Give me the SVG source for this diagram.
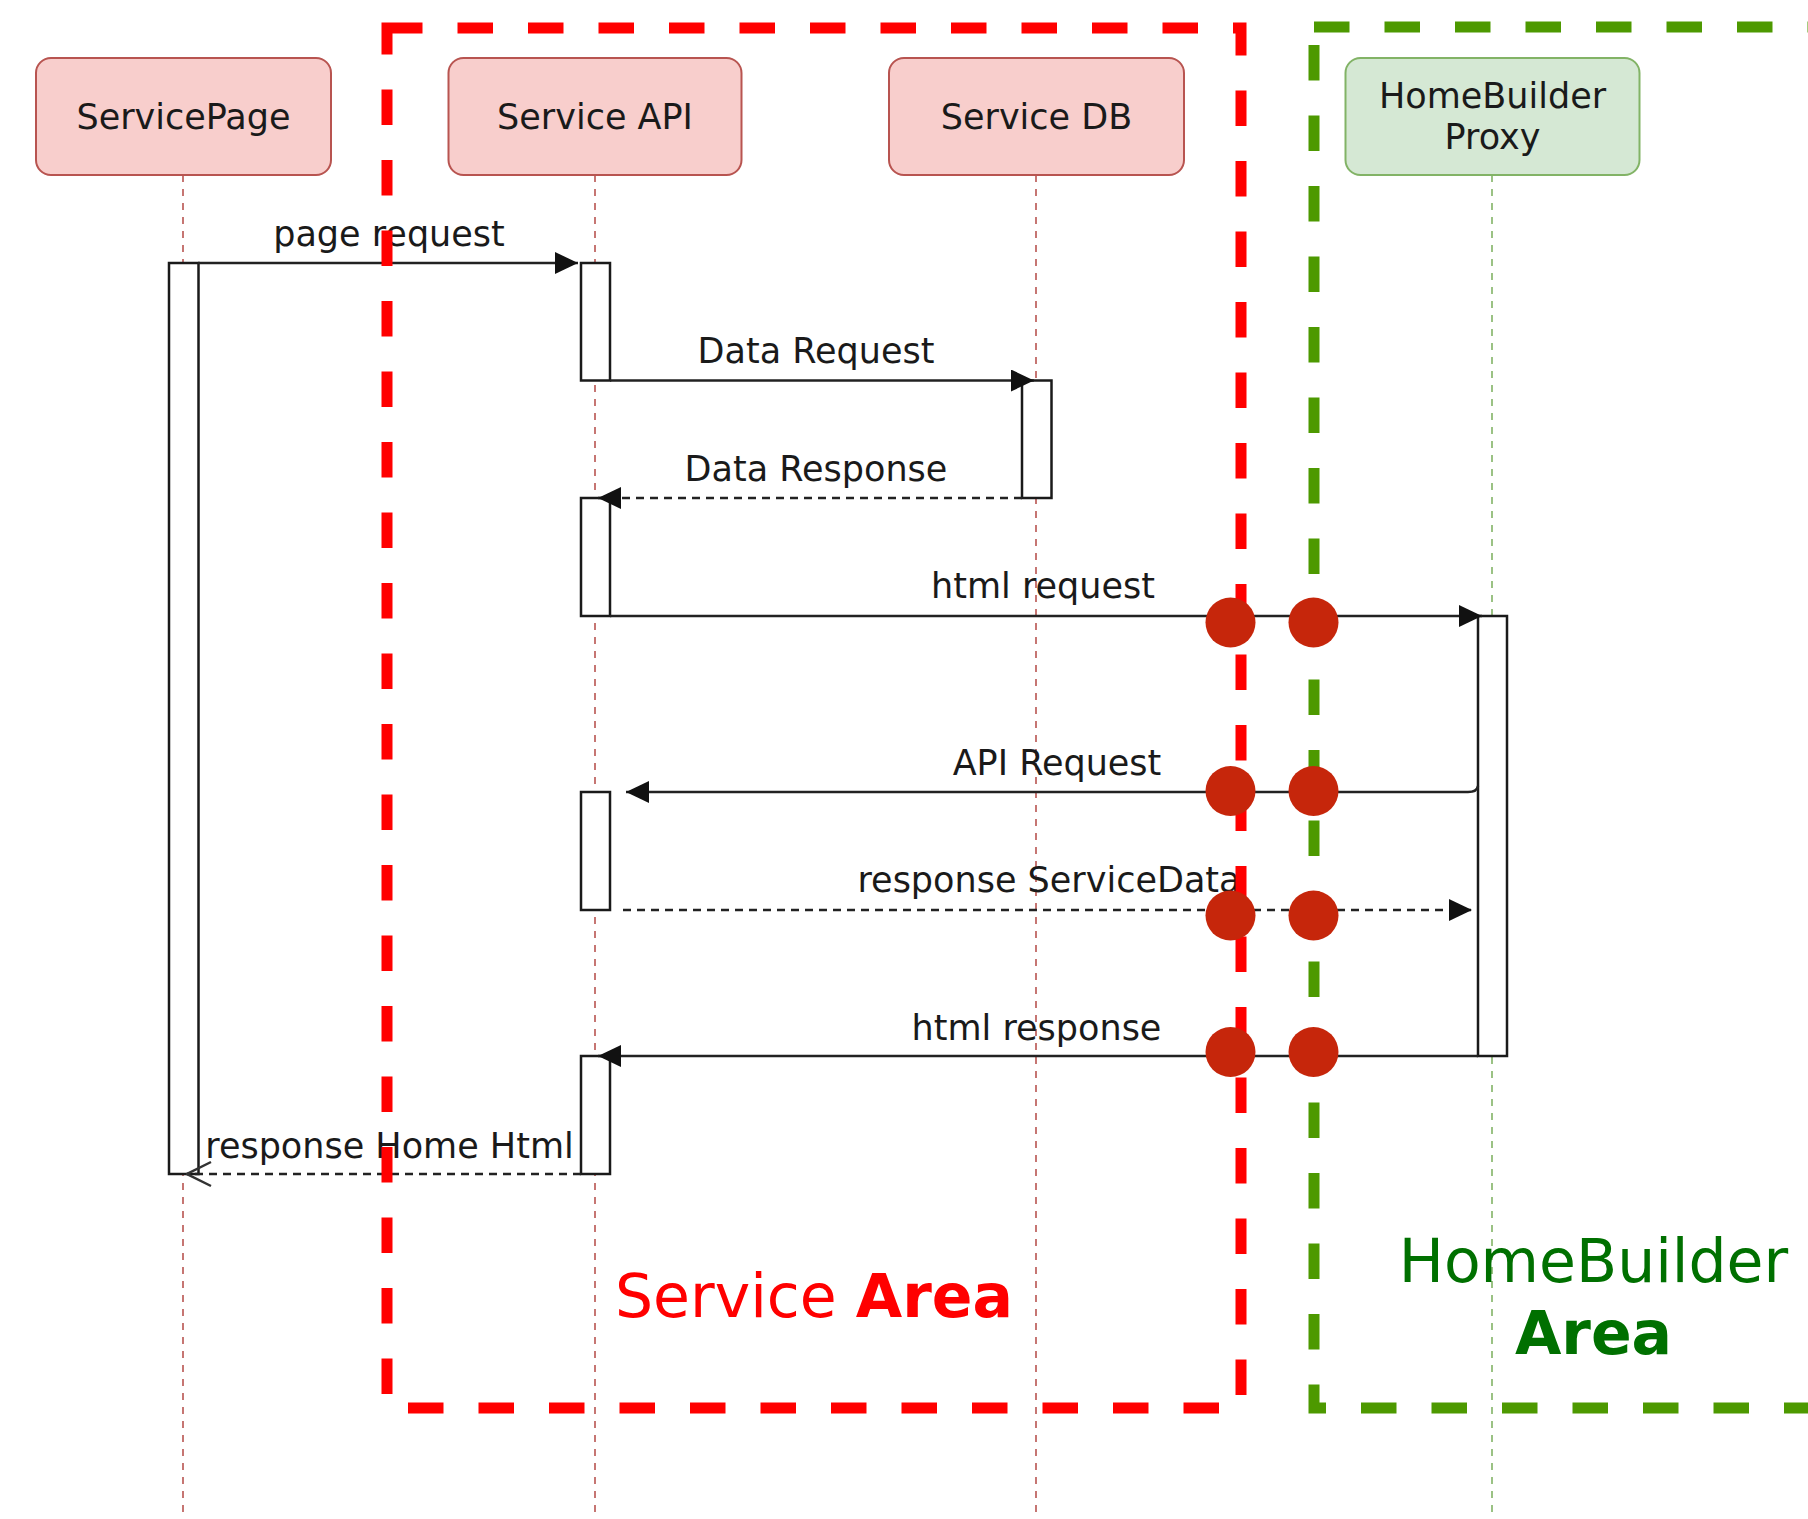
<svg xmlns="http://www.w3.org/2000/svg" width="1808" height="1519" viewBox="0 0 1808 1519">
<style>
text{font-family:"DejaVu Sans","Liberation Sans",sans-serif;fill:#1a1a1a}
.lbl{font-size:35px;text-anchor:middle}
.pink{fill:#f8cecc;stroke:#b85450;stroke-width:2}
.green{fill:#d5e8d4;stroke:#82b366;stroke-width:2}
.life{stroke:#b85450;stroke-width:1.6;stroke-dasharray:7 7;fill:none}
.lifeg{stroke:#82b366;stroke-width:1.6;stroke-dasharray:7 7;fill:none}
.bar{fill:#fff;stroke:#1a1a1a;stroke-width:2.5}
.msg{stroke:#222;stroke-width:2.5;fill:none}
.dash{stroke-dasharray:8 6}
.dot{fill:#c6260b}
</style>
<defs>
<marker id="block" viewBox="0 0 23 22" refX="23" refY="11" markerWidth="23" markerHeight="22" markerUnits="userSpaceOnUse" orient="auto">
<path d="M0,0 L23,11 L0,22 Z" fill="#111"/>
</marker>
<marker id="open" viewBox="0 0 26 28" refX="25" refY="14" markerWidth="26" markerHeight="28" markerUnits="userSpaceOnUse" orient="auto">
<path d="M1,2 L25,14 L1,26" fill="none" stroke="#333" stroke-width="2.5"/>
</marker>
</defs>
<rect width="1808" height="1519" fill="#fff"/>

<g id="lifelines">
<line class="life" x1="183" y1="175" x2="183" y2="1519"/>
<line class="life" x1="595" y1="175" x2="595" y2="1519"/>
<line class="life" x1="1036" y1="175" x2="1036" y2="1519"/>
<line class="lifeg" x1="1492" y1="175" x2="1492" y2="1519"/>
</g>

<g id="ServicePage">
<rect class="pink" x="36" y="58" width="295" height="117" rx="15"/>
<text class="lbl" x="183.5" y="129">ServicePage</text>
<rect class="bar" x="169" y="263" width="29.5" height="911"/>
</g>
<g id="ServiceAPI">
<rect class="pink" x="448.5" y="58" width="293" height="117" rx="15"/>
<text class="lbl" x="595" y="129">Service API</text>
<rect class="bar" x="581" y="263" width="29" height="117.5"/>
<rect class="bar" x="581" y="498" width="29" height="118"/>
<rect class="bar" x="581" y="792" width="29" height="118"/>
<rect class="bar" x="581" y="1056" width="29" height="118"/>
</g>
<g id="ServiceDB">
<rect class="pink" x="889" y="58" width="295" height="117" rx="15"/>
<text class="lbl" x="1036.5" y="129">Service DB</text>
<rect class="bar" x="1022" y="380.5" width="29.5" height="117.5"/>
</g>
<g id="HomeBuilderProxy">
<rect class="green" x="1345.5" y="58" width="294" height="117" rx="15"/>
<text class="lbl" x="1492.5" y="108">HomeBuilder</text>
<text class="lbl" x="1492.5" y="149">Proxy</text>
<rect class="bar" x="1478" y="616" width="29" height="440"/>
</g>

<g id="connectors">
<line class="msg" x1="198" y1="263" x2="578" y2="263" marker-end="url(#block)"/>
<line class="msg" x1="610" y1="380.5" x2="1034" y2="380.5" marker-end="url(#block)"/>
<line class="msg dash" x1="1022" y1="498" x2="598" y2="498" marker-end="url(#block)"/>
<line class="msg" x1="610" y1="616" x2="1482" y2="616" marker-end="url(#block)"/>
<path class="msg" d="M1478,786 Q1477,792 1468,792 L626,792" marker-end="url(#block)"/>
<line class="msg dash" x1="623" y1="910" x2="1472" y2="910" marker-end="url(#block)"/>
<line class="msg" x1="1478" y1="1056" x2="598" y2="1056" marker-end="url(#block)"/>
<line class="msg dash" x1="581" y1="1174" x2="187" y2="1174" marker-end="url(#open)"/>
</g>

<g id="labels">
<text class="lbl" x="389" y="246">page request</text>
<text class="lbl" x="816" y="363">Data Request</text>
<text class="lbl" x="816" y="481">Data Response</text>
<text class="lbl" x="1043" y="598">html request</text>
<text class="lbl" x="1057" y="775">API Request</text>
<text class="lbl" x="1049" y="892">response ServiceData</text>
<text class="lbl" x="1036.5" y="1040">html response</text>
<text class="lbl" x="389.5" y="1158">response Home Html</text>
</g>

<g id="ServiceArea">
<path d="M387,28 H1241 V1408 H387 Z" fill="none" stroke="#ff0000" stroke-width="11" stroke-dasharray="35.5 35"/>
<text x="814" y="1317" font-size="60" text-anchor="middle" style="fill:#ff0000">Service <tspan font-weight="bold">Area</tspan></text>
</g>
<g id="HomeBuilderArea">
<path d="M1314,27 H2004.25 V1408 H1314 Z" fill="none" stroke="#4d9900" stroke-width="11" stroke-dasharray="35.5 35"/>
<text x="1593.5" y="1282" font-size="60" text-anchor="middle" style="fill:#007000">HomeBuilder</text>
<text x="1593.5" y="1354" font-size="60" text-anchor="middle" font-weight="bold" style="fill:#007000">Area</text>
</g>

<g id="dots">
<circle class="dot" cx="1230.5" cy="622.5" r="25"/>
<circle class="dot" cx="1313.5" cy="622.5" r="25"/>
<circle class="dot" cx="1230.5" cy="791" r="25"/>
<circle class="dot" cx="1313.5" cy="791" r="25"/>
<circle class="dot" cx="1230.5" cy="915.5" r="25"/>
<circle class="dot" cx="1313.5" cy="915.5" r="25"/>
<circle class="dot" cx="1230.5" cy="1052" r="25"/>
<circle class="dot" cx="1313.5" cy="1052" r="25"/>
</g>
</svg>
